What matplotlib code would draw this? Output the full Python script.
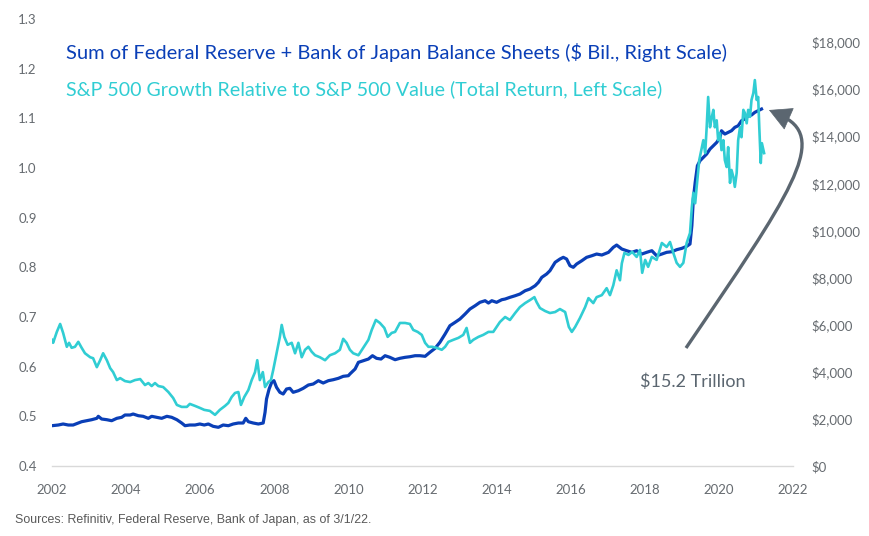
import numpy as np
import matplotlib
matplotlib.use("Agg")
import matplotlib.pyplot as plt
from matplotlib.path import Path
from matplotlib.patches import PathPatch
from matplotlib.ticker import FuncFormatter

# S&P 500 Growth / Value ratio (left scale)
spx_years = [2002.00, 2002.03, 2002.13, 2002.22, 2002.30, 2002.40, 2002.46, 2002.53, 2002.62, 2002.71,
             2002.80, 2002.89, 2003.03, 2003.11, 2003.21, 2003.30, 2003.38, 2003.48, 2003.57, 2003.65,
             2003.75, 2003.84, 2003.97, 2004.11, 2004.24, 2004.38, 2004.51, 2004.60, 2004.69, 2004.78,
             2004.87, 2005.00, 2005.14, 2005.27, 2005.37, 2005.50, 2005.64, 2005.72, 2005.86, 2005.99,
             2006.11, 2006.26, 2006.40, 2006.53, 2006.67, 2006.76, 2006.85, 2006.94, 2007.03, 2007.10,
             2007.19, 2007.30, 2007.39, 2007.48, 2007.54, 2007.61, 2007.69, 2007.75, 2007.84, 2007.91,
             2007.97, 2008.06, 2008.15, 2008.20, 2008.27, 2008.36, 2008.47, 2008.56, 2008.65, 2008.74,
             2008.83, 2008.92, 2009.01, 2009.10, 2009.23, 2009.37, 2009.50, 2009.64, 2009.77, 2009.86,
             2009.95, 2010.04, 2010.13, 2010.27, 2010.40, 2010.54, 2010.63, 2010.74, 2010.85, 2010.97,
             2011.06, 2011.17, 2011.26, 2011.39, 2011.53, 2011.66, 2011.75, 2011.87, 2011.98, 2012.07,
             2012.16, 2012.26, 2012.38, 2012.52, 2012.61, 2012.70, 2012.83, 2012.97, 2013.10, 2013.19,
             2013.28, 2013.37, 2013.51, 2013.64, 2013.78, 2013.91, 2014.00, 2014.09, 2014.23, 2014.36,
             2014.50, 2014.63, 2014.77, 2014.90, 2015.02, 2015.08, 2015.17, 2015.31, 2015.44, 2015.58,
             2015.71, 2015.85, 2015.95, 2016.03, 2016.12, 2016.25, 2016.39, 2016.48, 2016.61, 2016.70,
             2016.84, 2016.97, 2017.06, 2017.15, 2017.24, 2017.33, 2017.38, 2017.45, 2017.56, 2017.66,
             2017.78, 2017.87, 2017.93, 2018.01, 2018.09, 2018.19, 2018.32, 2018.46, 2018.59, 2018.68,
             2018.77, 2018.86, 2018.95, 2019.04, 2019.13, 2019.22, 2019.27, 2019.31, 2019.36, 2019.40,
             2019.47, 2019.54, 2019.58, 2019.63, 2019.67, 2019.71, 2019.76, 2019.81, 2019.85, 2019.89,
             2019.94, 2019.98, 2020.03, 2020.07, 2020.12, 2020.16, 2020.21, 2020.25, 2020.30, 2020.34,
             2020.39, 2020.43, 2020.48, 2020.52, 2020.57, 2020.61, 2020.66, 2020.70, 2020.75, 2020.79,
             2020.84, 2020.88, 2020.93, 2020.97, 2021.02, 2021.06, 2021.09, 2021.13, 2021.16, 2021.22]
spx_ratio = [0.654, 0.648, 0.670, 0.686, 0.668, 0.640, 0.648, 0.638, 0.640, 0.650,
             0.638, 0.627, 0.619, 0.617, 0.599, 0.613, 0.627, 0.613, 0.597, 0.589,
             0.573, 0.577, 0.571, 0.569, 0.573, 0.575, 0.563, 0.567, 0.561, 0.567,
             0.561, 0.559, 0.549, 0.537, 0.523, 0.519, 0.519, 0.525, 0.521, 0.517,
             0.513, 0.511, 0.503, 0.513, 0.521, 0.527, 0.539, 0.547, 0.549, 0.523,
             0.539, 0.553, 0.573, 0.589, 0.613, 0.573, 0.589, 0.559, 0.569, 0.573,
             0.593, 0.627, 0.660, 0.684, 0.660, 0.644, 0.648, 0.627, 0.648, 0.619,
             0.634, 0.640, 0.630, 0.623, 0.619, 0.613, 0.623, 0.627, 0.634, 0.656,
             0.648, 0.634, 0.627, 0.623, 0.638, 0.654, 0.674, 0.694, 0.688, 0.678,
             0.660, 0.668, 0.670, 0.688, 0.688, 0.686, 0.674, 0.670, 0.664, 0.648,
             0.640, 0.640, 0.638, 0.634, 0.640, 0.650, 0.654, 0.658, 0.664, 0.678,
             0.648, 0.654, 0.660, 0.664, 0.670, 0.670, 0.680, 0.690, 0.700, 0.694,
             0.708, 0.720, 0.728, 0.734, 0.740, 0.730, 0.718, 0.712, 0.708, 0.710,
             0.716, 0.710, 0.680, 0.670, 0.680, 0.698, 0.720, 0.738, 0.728, 0.740,
             0.744, 0.758, 0.744, 0.764, 0.794, 0.774, 0.808, 0.829, 0.825, 0.831,
             0.821, 0.835, 0.789, 0.815, 0.801, 0.821, 0.815, 0.849, 0.841, 0.851,
             0.829, 0.809, 0.801, 0.809, 0.849, 0.869, 0.921, 0.950, 0.929, 0.962,
             1.016, 1.042, 1.056, 1.030, 1.082, 1.143, 1.082, 1.103, 1.117, 1.082,
             1.096, 1.056, 1.070, 1.036, 1.056, 1.016, 1.002, 1.042, 0.970, 0.996,
             0.982, 0.962, 0.990, 1.056, 1.082, 1.062, 1.117, 1.111, 1.090, 1.117,
             1.103, 1.137, 1.151, 1.177, 1.137, 1.143, 1.082, 1.010, 1.050, 1.030]

# Fed + BoJ balance sheets, $ bil. (right scale)
bs_years = [2002.00, 2002.17, 2002.30, 2002.44, 2002.57, 2002.71, 2002.80, 2002.94, 2003.07, 2003.21,
            2003.25, 2003.34, 2003.48, 2003.61, 2003.75, 2003.88, 2003.97, 2004.11, 2004.19, 2004.33,
            2004.46, 2004.60, 2004.69, 2004.83, 2004.96, 2005.10, 2005.23, 2005.37, 2005.50, 2005.59,
            2005.72, 2005.86, 2005.99, 2006.11, 2006.22, 2006.35, 2006.49, 2006.62, 2006.76, 2006.89,
            2007.03, 2007.16, 2007.23, 2007.30, 2007.43, 2007.57, 2007.70, 2007.75, 2007.79, 2007.86,
            2007.93, 2007.99, 2008.06, 2008.15, 2008.24, 2008.33, 2008.42, 2008.51, 2008.65, 2008.78,
            2008.92, 2009.05, 2009.19, 2009.32, 2009.46, 2009.59, 2009.73, 2009.86, 2010.00, 2010.04,
            2010.18, 2010.27, 2010.40, 2010.54, 2010.65, 2010.76, 2010.88, 2010.99, 2011.12, 2011.26,
            2011.39, 2011.53, 2011.66, 2011.80, 2011.93, 2012.07, 2012.20, 2012.34, 2012.47, 2012.61,
            2012.74, 2012.88, 2013.01, 2013.15, 2013.28, 2013.42, 2013.55, 2013.69, 2013.78, 2013.87,
            2014.00, 2014.14, 2014.23, 2014.36, 2014.50, 2014.63, 2014.77, 2014.90, 2015.04, 2015.13,
            2015.22, 2015.35, 2015.44, 2015.58, 2015.71, 2015.80, 2015.89, 2015.98, 2016.07, 2016.16,
            2016.30, 2016.43, 2016.57, 2016.70, 2016.84, 2017.02, 2017.15, 2017.24, 2017.38, 2017.51,
            2017.65, 2017.78, 2017.92, 2018.05, 2018.19, 2018.32, 2018.46, 2018.59, 2018.73, 2018.86,
            2019.00, 2019.13, 2019.22, 2019.27, 2019.31, 2019.36, 2019.42, 2019.49, 2019.58, 2019.67,
            2019.76, 2019.85, 2019.94, 2020.03, 2020.07, 2020.16, 2020.25, 2020.34, 2020.43, 2020.52,
            2020.61, 2020.70, 2020.79, 2020.88, 2020.97, 2021.06, 2021.15]
bs_bil = [1711, 1740, 1783, 1740, 1740, 1825, 1880, 1923, 1965, 2024,
          2109, 1995, 1965, 1923, 2024, 2067, 2165, 2165, 2207, 2135,
          2109, 2024, 2109, 2067, 2024, 2109, 2067, 1965, 1825, 1711,
          1740, 1740, 1783, 1740, 1783, 1684, 1642, 1740, 1711, 1783,
          1825, 1825, 2024, 1880, 1825, 1783, 1825, 2279, 2844, 3268,
          3553, 3622, 3340, 3128, 3056, 3268, 3297, 3128, 3197, 3297,
          3438, 3480, 3622, 3523, 3622, 3663, 3722, 3807, 3833, 3905,
          4117, 4400, 4469, 4541, 4682, 4571, 4541, 4682, 4613, 4512,
          4571, 4613, 4639, 4682, 4682, 4656, 4826, 4996, 5251, 5603,
          5955, 6099, 6239, 6452, 6664, 6804, 6948, 7016, 6918, 7016,
          6948, 7059, 7088, 7160, 7228, 7300, 7440, 7513, 7653, 7797,
          8009, 8150, 8290, 8646, 8786, 8858, 8786, 8502, 8434, 8574,
          8714, 8858, 8926, 8998, 8956, 9070, 9283, 9380, 9210, 9139,
          9070, 9139, 8998, 9070, 9139, 8926, 8998, 9070, 9096, 9182,
          9240, 9325, 9423, 10200, 11333, 12041, 12747, 12959, 13103, 13243,
          13455, 13596, 13735, 13951, 14232, 14092, 14163, 14232, 14376, 14444,
          14656, 14728, 14868, 14898, 15013, 15081, 15153]

left_ticks = [0.4, 0.5, 0.6, 0.7, 0.8, 0.9, 1.0, 1.1, 1.2, 1.3]
right_ticks = [0, 2000, 4000, 6000, 8000, 10000, 12000, 14000, 16000, 18000]
year_ticks = [2002, 2004, 2006, 2008, 2010, 2012, 2014, 2016, 2018, 2020, 2022]

BLUE = "#0A3FB7"
CYAN = "#30CDD3"
GRAY = "#5B6670"
TICK = "#666B70"

plt.rcParams["font.family"] = ["Lato", "DejaVu Sans"]

fig = plt.figure(figsize=(8.69, 5.36), dpi=100)
ax = fig.add_axes([52/869, 1-466/536, (793-52)/869, (466-19)/536])
ax2 = ax.twinx()

ax.plot(spx_years, spx_ratio, color=CYAN, lw=1.9, zorder=2)
ax2.plot(bs_years, bs_bil, color=BLUE, lw=2.3, zorder=3)

ax.set_xlim(2002, 2022)
ax.set_ylim(0.4, 1.3)
ax2.set_ylim(0, 18975)
ax.set_xticks(year_ticks)
ax.set_yticks(left_ticks)
ax.yaxis.set_major_formatter(FuncFormatter(lambda v, p: f"{v:.1f}"))
ax2.set_yticks(right_ticks)
ax2.yaxis.set_major_formatter(FuncFormatter(lambda v, p: f"${v:,.0f}"))

for a in (ax, ax2):
    for s in a.spines.values():
        s.set_visible(False)
ax.spines["bottom"].set_visible(True)
ax.spines["bottom"].set_color("#D9D9D9")
ax.spines["bottom"].set_linewidth(1.0)
ax.tick_params(axis="x", length=0, pad=13, labelsize=9.5, labelcolor=TICK)
ax.tick_params(axis="y", length=0, pad=11, labelsize=9.5, labelcolor=TICK)
ax2.tick_params(axis="y", length=0, pad=13, labelsize=9.5, labelcolor=TICK)
ax.set_zorder(ax2.get_zorder() + 1)
ax.patch.set_visible(False)

fig.text(66/869, 1-52/536, "Sum of Federal Reserve + Bank of Japan Balance Sheets ($ Bil., Right Scale)",
         color=BLUE, fontsize=14.5, va="center", ha="left")
fig.text(66/869, 1-89/536, "S&P 500 Growth Relative to S&P 500 Value (Total Return, Left Scale)",
         color=CYAN, fontsize=14.1, va="center", ha="left")
fig.text(693/869, 1-382/536, "$15.2 Trillion", color=GRAY, fontsize=13, va="center", ha="center")
fig.text(15/869, 1-520/536, "Sources: Refinitiv, Federal Reserve, Bank of Japan, as of 3/1/22.",
         family="Liberation Sans", color="#595959", fontsize=8.9, va="center", ha="left")

# curved arrow: body as a bezier, head drawn separately
verts = [(2019.112, 0.6376), (2021.919, 0.9456), (2022.945, 1.0563), (2021.757, 1.1026)]
codes = [Path.MOVETO, Path.CURVE4, Path.CURVE4, Path.CURVE4]
ax.add_patch(PathPatch(Path(verts, codes), fc="none", ec=GRAY, lw=2.4,
                       capstyle="butt", clip_on=False, zorder=4))
ax.annotate("", xy=(2021.352, 1.1167), xytext=(2021.80, 1.1020),
            arrowprops=dict(arrowstyle="-|>,head_length=0.75,head_width=0.4", mutation_scale=20,
                            fc=GRAY, ec=GRAY, lw=0.5, shrinkA=0, shrinkB=0),
            annotation_clip=False, zorder=4)

fig.savefig("out.png", dpi=100)
